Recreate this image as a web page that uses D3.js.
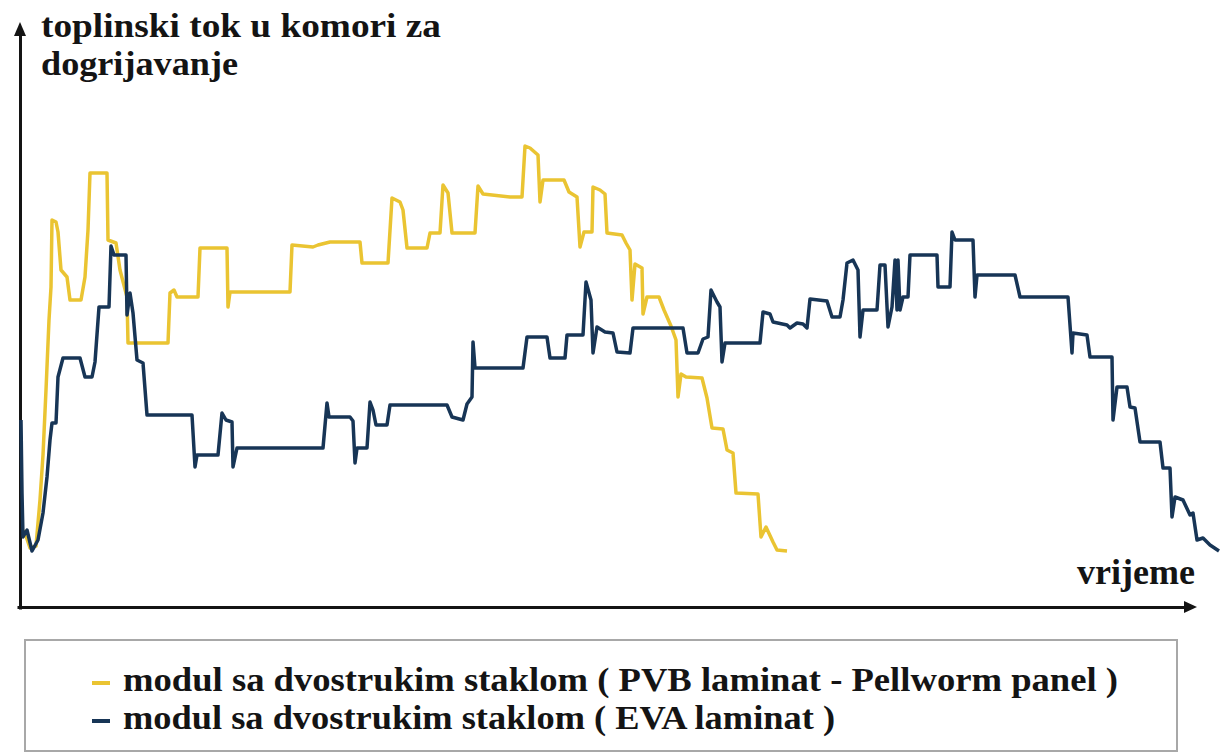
<!DOCTYPE html>
<html><head><meta charset="utf-8">
<script src="https://cdn.jsdelivr.net/npm/d3@7"></script>
<style>html,body{margin:0;padding:0;background:#fff;}svg{display:block;}</style>
</head><body>
<svg id="c" width="1222" height="755"></svg>
<script>
// PVB laminat (yellow) – time, heat flux (arbitrary units)
const pvbTime = [4,10,16,20,23,26,29,31,32,36,38,41,47,50,61,65,68,70,87,88,96,100,107,108,148,150,154,157,178,180,207,208,210,270,272,293,298,310,340,342,368,372,380,383,387,407,410,420,423,428,432,455,458,463,490,502,505,510,518,520,523,544,549,557,560,564,572,573,580,585,587,602,606,610,612,615,622,623,627,639,644,651,656,658,661,666,682,687,692,703,707,713,716,738,741,746,753,757,767];
const pvbFlux = [77,59,61,107,152,217,287,320,387,385,375,337,330,307,307,330,377,434,434,367,364,337,310,264,264,314,317,310,310,359,359,300,315,315,362,360,362,365,365,344,344,409,405,397,359,359,374,374,422,414,374,374,421,413,410,410,461,459,452,405,427,427,415,410,360,375,375,420,417,413,374,372,364,357,307,343,339,293,310,310,297,281,267,210,233,230,229,209,179,178,157,154,114,113,70,80,65,57,56];
// EVA laminat (dark blue)
const evaTime = [1,2,3,7,12,18,23,27,30,32,36,38,43,60,65,72,75,79,89,91,94,106,107,110,113,117,123,127,172,175,177,198,202,206,212,213,217,303,307,309,330,333,335,337,347,350,353,356,367,370,427,432,443,447,452,453,455,503,507,527,530,545,547,563,566,571,573,577,585,593,597,610,613,663,667,678,683,688,691,697,700,702,705,740,743,750,753,767,770,777,783,787,790,807,812,820,823,827,833,838,840,843,857,860,865,868,872,875,877,878,880,883,888,890,917,918,930,932,935,953,955,957,995,1000,1048,1052,1053,1067,1070,1092,1093,1097,1107,1110,1115,1120,1140,1143,1150,1152,1155,1163,1170,1173,1177,1183,1190,1199];
const evaFlux = [187,114,70,77,56,67,94,130,167,184,184,230,249,249,230,230,245,300,300,361,352,352,292,314,294,247,244,192,192,140,152,152,194,187,185,140,159,159,204,190,190,186,144,159,159,205,197,182,182,202,202,190,187,203,210,265,239,239,270,270,249,249,272,272,325,307,254,280,275,274,255,254,279,279,254,254,268,270,317,305,300,245,264,264,295,293,285,282,279,284,283,279,308,306,290,290,307,344,347,337,270,297,297,342,342,280,300,347,297,347,297,310,310,352,352,320,320,375,367,367,310,332,332,310,310,254,274,272,250,250,187,220,220,200,199,165,165,139,139,90,110,107,92,94,67,69,62,56];

const yTitle = ["toplinski tok u komori za", "dogrijavanje"];
const xTitle = "vrijeme";
const seriesNames = ["modul sa dvostrukim staklom ( PVB laminat - Pellworm panel )", "modul sa dvostrukim staklom ( EVA laminat )"];
const seriesColors = ["#eac432", "#173556"];

const svg = d3.select("#c");
const x = d3.scaleLinear().domain([0, 1200]).range([20, 1220]);
const y = d3.scaleLinear().domain([0, 580]).range([607, 27]);
const ink = "#141414";
const serif = "'Liberation Serif'";

// axes (no ticks)
const xAxis = d3.axisBottom(d3.scaleLinear().domain([0,1]).range([17, 1186])).tickValues([]).tickSizeOuter(0);
svg.append("g").attr("transform", "translate(0,607)").call(xAxis)
  .select("path").attr("stroke", ink).attr("stroke-width", 3);
const yAxis = d3.axisLeft(d3.scaleLinear().domain([0,1]).range([609, 34])).tickValues([]).tickSizeOuter(0);
svg.append("g").attr("transform", "translate(20,0)").call(yAxis)
  .select("path").attr("stroke", ink).attr("stroke-width", 3);
// arrow heads
svg.append("path").attr("d", "M1184,601 L1197,607 L1184,613 Z").attr("fill", ink);
svg.append("path").attr("d", "M14,36 L20,22 L26,36 Z").attr("fill", ink);

// lines
const line = d3.line().x(d => x(d[0])).y(d => y(d[1]));
const pvb = pvbTime.map((t, i) => [t, pvbFlux[i]]);
const eva = evaTime.map((t, i) => [t, evaFlux[i]]);
svg.append("path").datum(pvb).attr("d", line).attr("fill", "none")
  .attr("stroke", seriesColors[0]).attr("stroke-width", 3.5).attr("stroke-linejoin", "round");
svg.append("path").datum(eva).attr("d", line).attr("fill", "none")
  .attr("stroke", seriesColors[1]).attr("stroke-width", 3.5).attr("stroke-linejoin", "round");

function label(txt, xx, yy, size, len) {
  const t = svg.append("text").attr("x", xx).attr("y", yy)
    .style("font-family", serif).style("font-weight", "bold").style("font-size", size + "px")
    .attr("fill", ink).text(txt);
  if (len) t.attr("textLength", len).attr("lengthAdjust", "spacingAndGlyphs");
  return t;
}
// titles
label(yTitle[0], 41, 37, 34, 400);
label(yTitle[1], 41, 75, 34, 197);
label(xTitle, 1077, 584, 35, 118);

// legend
svg.append("rect").attr("x", 25).attr("y", 640).attr("width", 1152).attr("height", 111)
  .attr("fill", "#fff").attr("stroke", "#a8a8a8").attr("stroke-width", 2);
const legW = [995, 712];
const legY = [691, 729];
seriesNames.forEach((n, i) => {
  svg.append("line").attr("x1", 92).attr("x2", 110).attr("y1", legY[i] - 8).attr("y2", legY[i] - 8)
    .attr("stroke", seriesColors[i]).attr("stroke-width", 4);
  label(n, 123, legY[i], 34, legW[i]);
});
</script>
</body></html>
